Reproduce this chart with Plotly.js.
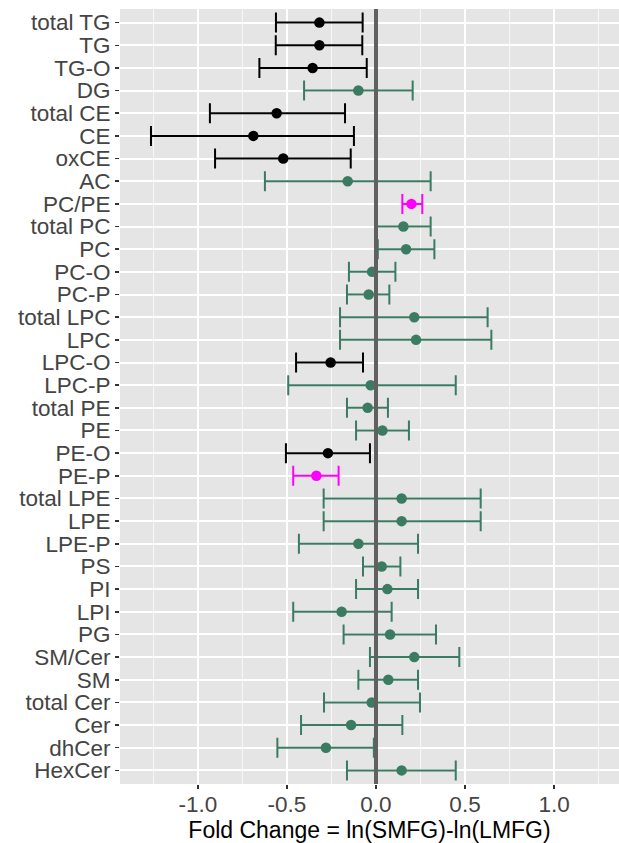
<!DOCTYPE html>
<html>
<head>
<meta charset="utf-8">
<script src="https://cdn.plot.ly/plotly-3.0.1.min.js"></script>
<style>
html,body{margin:0;padding:0;background:#fff;overflow:hidden;}
#chart{width:619px;height:843px;}
</style>
</head>
<body>
<div id="chart"></div>
<script>
// Lipid classes (top to bottom)
const categories = ["total TG","TG","TG-O","DG","total CE","CE","oxCE","AC","PC/PE","total PC","PC","PC-O","PC-P","total LPC","LPC","LPC-O","LPC-P","total PE","PE","PE-O","PE-P","total LPE","LPE","LPE-P","PS","PI","LPI","PG","SM/Cer","SM","total Cer","Cer","dhCer","HexCer"];
// Fold change estimates
const foldChange = [-0.318,-0.318,-0.356,-0.099,-0.558,-0.689,-0.521,-0.159,0.199,0.154,0.169,-0.022,-0.041,0.215,0.225,-0.255,-0.030,-0.047,0.036,-0.270,-0.335,0.144,0.144,-0.099,0.032,0.064,-0.193,0.079,0.215,0.069,-0.024,-0.140,-0.281,0.144];
// Lower confidence limits
const lowerCI = [-0.562,-0.563,-0.655,-0.404,-0.933,-1.264,-0.904,-0.624,0.148,0.001,0.010,-0.152,-0.163,-0.202,-0.202,-0.449,-0.493,-0.163,-0.112,-0.506,-0.465,-0.294,-0.294,-0.433,-0.073,-0.112,-0.465,-0.182,-0.034,-0.099,-0.292,-0.421,-0.554,-0.163];
// Upper confidence limits
const upperCI = [-0.075,-0.077,-0.052,0.206,-0.174,-0.124,-0.142,0.307,0.260,0.307,0.328,0.109,0.075,0.627,0.648,-0.073,0.448,0.067,0.185,-0.034,-0.210,0.588,0.588,0.236,0.137,0.236,0.088,0.337,0.468,0.236,0.247,0.148,-0.012,0.448];
// Significance group of each class
const group = ["down","down","down","ns","down","down","down","ns","ratio","ns","ns","ns","ns","ns","ns","down","ns","ns","ns","down","ratio","ns","ns","ns","ns","ns","ns","ns","ns","ns","ns","ns","ns","ns"];
const groupNames = ["ns","down","ratio"];
const groupColors = {"down":"#000000","ns":"#3A7B61","ratio":"#FF00FF"};
const xTickVals = [-1.0,-0.5,0.0,0.5,1.0];
const xTickText = ["-1.0","-0.5","0.0","0.5","1.0"];

const traces = groupNames.map(g => {
  const idx = categories.map((c,i)=>i).filter(i => group[i] === g);
  return {
    type: "scatter",
    mode: "markers",
    name: g,
    x: idx.map(i => foldChange[i]),
    y: idx.map(i => categories[i]),
    marker: {color: groupColors[g], size: 10.5},
    error_x: {
      type: "data",
      symmetric: false,
      array: idx.map(i => upperCI[i] - foldChange[i]),
      arrayminus: idx.map(i => foldChange[i] - lowerCI[i]),
      color: groupColors[g],
      thickness: 2,
      width: 10
    },
    hoverinfo: "x+y"
  };
});

const layout = {
  width: 619,
  height: 843,
  margin: {l: 120, r: 0, t: 9, b: 59},
  paper_bgcolor: "#ffffff",
  plot_bgcolor: "#E5E5E5",
  showlegend: false,
  font: {family: "Liberation Sans, Arial, sans-serif", color: "#4D4D4D"},
  xaxis: {
    range: [-1.438, 1.365],
    tickmode: "array",
    tickvals: xTickVals,
    ticktext: xTickText,
    ticks: "outside",
    ticklen: 4,
    tickwidth: 1.5,
    tickcolor: "#333333",
    ticklabelstandoff: -4,
    tickfont: {size: 22.5, color: "#444444"},
    showgrid: true,
    gridcolor: "#ffffff",
    gridwidth: 2,
    minor: {dtick: 0.25, tick0: 0.25, showgrid: true, gridcolor: "#F7F7F7", gridwidth: 1, ticks: ""},
    zeroline: false,
    showline: false,
    automargin: false,
    title: {text: "Fold Change = ln(SMFG)-ln(LMFG)", font: {size: 23, color: "#000000"}, standoff: 6}
  },
  yaxis: {
    type: "category",
    categoryorder: "array",
    categoryarray: categories,
    tickmode: "array",
    tickvals: categories,
    ticktext: categories,
    range: [categories.length - 0.4, -0.6],
    ticks: "outside",
    ticklen: 4,
    tickwidth: 1.5,
    tickcolor: "#333333",
    tickfont: {size: 22.5, color: "#444444"},
    showgrid: true,
    gridcolor: "#ffffff",
    gridwidth: 2,
    zeroline: false,
    showline: false,
    automargin: false
  },
  shapes: [{
    type: "line", xref: "x", yref: "paper",
    x0: 0, x1: 0, y0: 0, y1: 1,
    line: {color: "#606060", width: 4},
    layer: "above"
  }]
};

Plotly.newPlot("chart", traces, layout, {staticPlot: true, displayModeBar: false});
</script>
</body>
</html>
